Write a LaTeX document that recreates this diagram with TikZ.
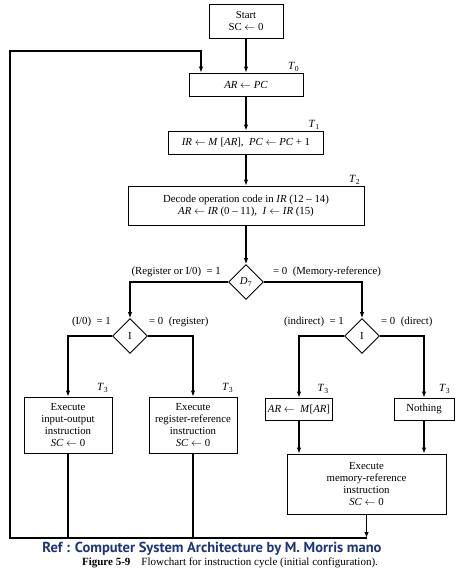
\documentclass[tikz,border=0pt]{standalone}
\usepackage{fontspec}
\setmainfont{Liberation Serif}
\newfontfamily\capfont{PT Sans}
\usetikzlibrary{arrows.meta,shapes.geometric}
\definecolor{refblue}{RGB}{28,52,120}
\tikzset{
	box/.style={draw, line width=0.9pt, align=center, inner sep=1pt, font=\fontsize{10.8}{12.2}\selectfont},
	decide/.style={draw, diamond, aspect=1, line width=0.9pt, inner sep=0pt, minimum width=35, minimum height=35, font=\fontsize{10.8}{12}\selectfont},
	flow/.style={line width=1.1pt, -{Latex[length=6pt,width=4.5pt]}},
	wire/.style={line width=1.1pt},
	tlab/.style={anchor=south east, inner sep=1pt, font=\fontsize{11}{12}\selectfont},
	cond/.style={inner sep=0pt, font=\fontsize{10.8}{12}\selectfont}
}
\newcommand{\la}{$\leftarrow$}
\begin{document}
\begin{tikzpicture}[x=1pt,y=-1pt]
			%%%%% START %%%%%
			\useasboundingbox (0,0) rectangle (474,571);
			
			\node[box, minimum width=74, minimum height=34] (start) at (246,21) {Start\\SC \la\ 0};
			\node[box, minimum width=114, minimum height=23] (pc) at (246,84.5) {\textit{AR} \la\ \textit{PC}};
			\node[box, minimum width=155, minimum height=23] (ir) at (246,142.5) {\textit{IR} \la\ \textit{M} [\textit{AR}],\ \ \textit{PC} \la\ \textit{PC} + 1};
			\node[box, minimum width=236, minimum height=39] (dec) at (246,205.5) {Decode operation code in \textit{IR} (12 -- 14)\\\textit{AR} \la\ \textit{IR} (0 -- 11),\ \ \textit{I} \la\ \textit{IR} (15)};
			
			\node[tlab] (t0) at ([xshift=-3pt]pc.north east) {\textit{T}\textsubscript{0}};
			\node[tlab] (t1) at ([xshift=-3pt]ir.north east) {\textit{T}\textsubscript{1}};
			\node[tlab] (t2) at ([xshift=-3pt]dec.north east) {\textit{T}\textsubscript{2}};
			
			\node[decide] (d7) at (246,282) {\textit{D}\textsubscript{7}};
			\node[decide] (il) at (130,336) {I};
			\node[decide] (ir2) at (362,336) {I};
			
			\node[cond, anchor=east] (c1) at (221,272) {(Register or I/0)\ \ = 1};
			\node[cond, anchor=west] (c2) at (273,272) {= 0\ \ (Memory-reference)};
			\node[cond, anchor=east] (c3) at (111,322) {(I/0)\ \ = 1};
			\node[cond, anchor=west] (c4) at (149,322) {= 0\ \ (register)};
			\node[cond, anchor=east] (c5) at (344,322) {(indirect)\ \ = 1};
			\node[cond, anchor=west] (c6) at (381,322) {= 0\ \ (direct)};
			
			\node[box, minimum width=88, minimum height=56] (io) at (68,425) {Execute\\input-output\\instruction\\\textit{SC} \la\ 0};
			\node[box, minimum width=88, minimum height=56] (reg) at (193,425) {Execute\\register-reference\\instruction\\\textit{SC} \la\ 0};
			\node[box, minimum width=67, minimum height=22] (arm) at (299,409) {\textit{AR} \la\ \ \textit{M}[\textit{AR}]};
			\node[box, minimum width=60, minimum height=22] (noth) at (424,409) {Nothing};
			\node[box, minimum width=159, minimum height=60] (mem) at (366.5,484) {Execute\\memory-reference\\instruction\\\textit{SC} \la\ 0};
			
			\node[tlab] (t3a) at ([xshift=-3pt,yshift=3pt]io.north east) {\textit{T}\textsubscript{3}};
			\node[tlab] (t3b) at ([xshift=-3pt,yshift=3pt]reg.north east) {\textit{T}\textsubscript{3}};
			\node[tlab] (t3c) at ([xshift=-3pt,yshift=3pt]arm.north east) {\textit{T}\textsubscript{3}};
			\node[tlab] (t3d) at ([xshift=-3pt,yshift=3pt]noth.north east) {\textit{T}\textsubscript{3}};
			
			\coordinate (loopR) at (366.5,538);
			\coordinate (loopL) at (10,538);
			\coordinate (loopT) at (10,51);
			\coordinate (loopA) at (201,51);
			
			\draw[flow] (start) -- (pc);
			\draw[flow] (pc) -- (ir);
			\draw[flow] (ir) -- (dec);
			\draw[flow] (dec) -- (d7);
			
			\draw[flow] (d7.west) -| (il.north);
			\draw[flow] (d7.east) -| (ir2.north);
			\draw[flow] (il.west) -| (io.north);
			\draw[flow] (il.east) -| (reg.north);
			\draw[flow] (ir2.west) -| (arm.north);
			\draw[flow] (ir2.east) -| (noth.north);
			\draw[flow] (arm.south) -- (arm.south |- mem.north);
			\draw[flow] (noth.south) -- (noth.south |- mem.north);
			
			\draw[flow] (mem.south) -- (loopR);
			\draw[wire] (io.south) -- (io.south |- loopL);
			\draw[wire] (reg.south) -- (reg.south |- loopL);
			\draw[flow] (loopR) -- (loopL) -- (loopT) -- (loopA) -- (loopA |- pc.north);
			
			\node[font=\capfont\bfseries\fontsize{14.5}{15}\selectfont, text=refblue, inner sep=0pt, text depth=1pt] (ref) at (212,548) {Ref : Computer System Architecture by M. Morris mano};
			\node[font=\fontsize{11}{12}\selectfont, inner sep=0pt, text height=7pt, text depth=1.5pt] (cap) at (230,562.5) {\textbf{Figure 5-9}\quad Flowchart for instruction cycle (initial configuration).};
			%%%%% END %%%%%
\end{tikzpicture}
\end{document}
